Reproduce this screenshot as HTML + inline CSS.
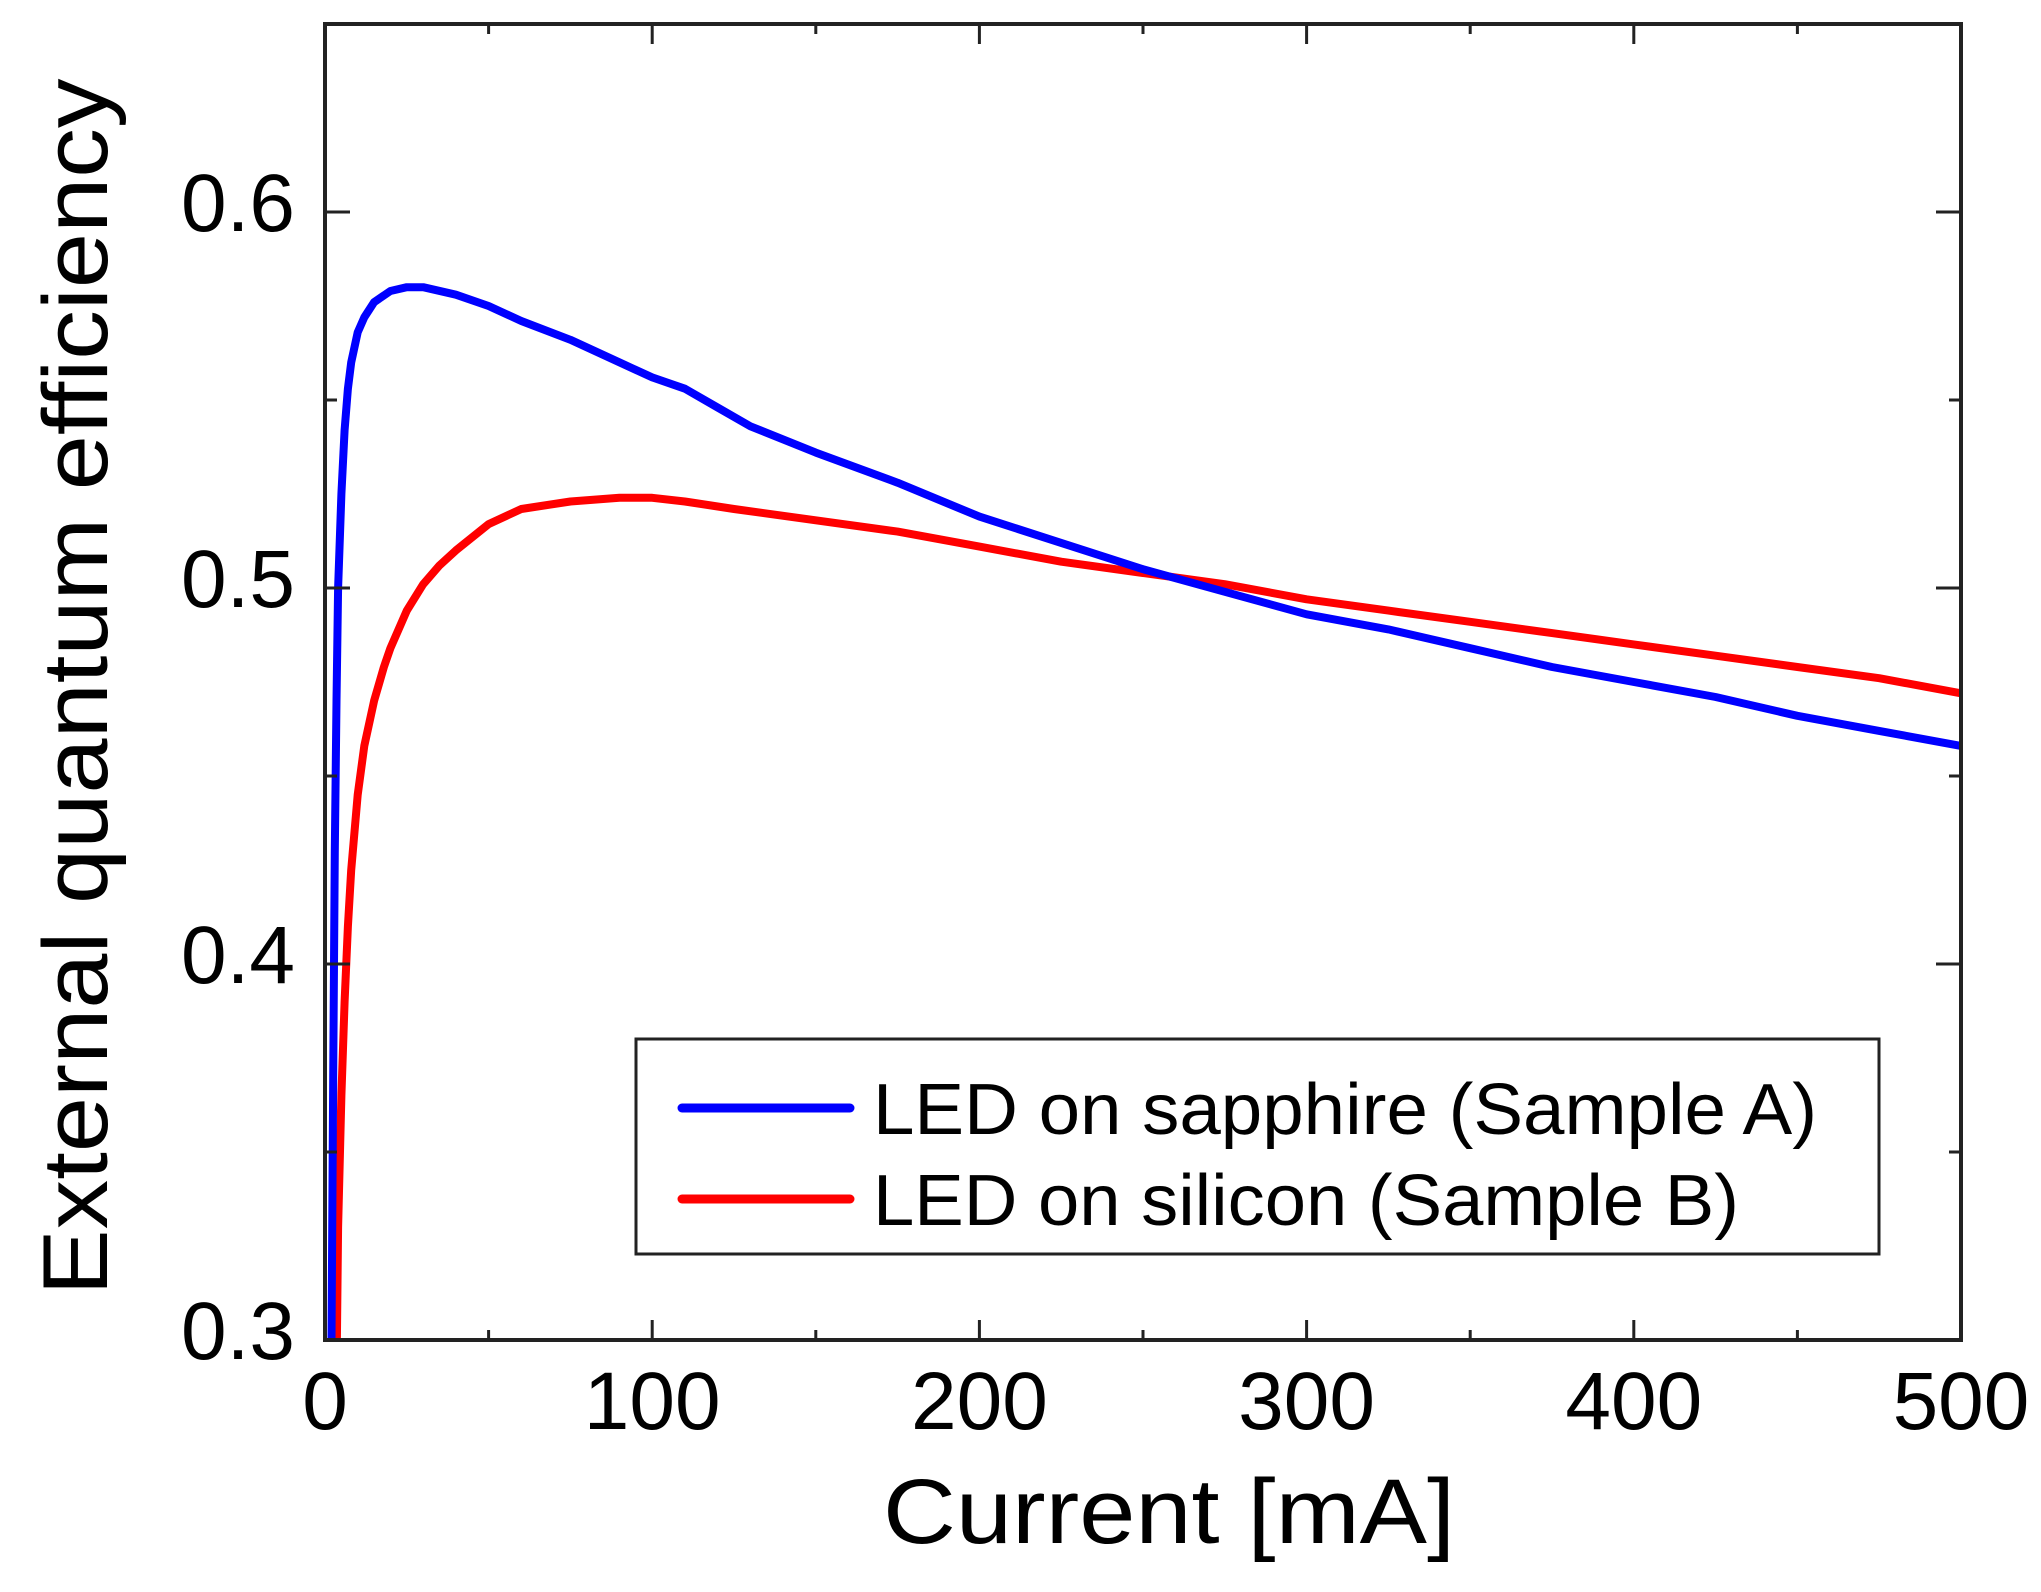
<!DOCTYPE html>
<html><head><meta charset="utf-8"><style>
html,body{margin:0;padding:0;background:#fff;}
svg{display:block;font-family:"Liberation Sans",Arial,sans-serif;}
</style></head><body>
<svg id="chart" width="2041" height="1592" viewBox="0 0 2041 1592" xmlns="http://www.w3.org/2000/svg">
<rect width="2041" height="1592" fill="#fff"/>
<g id="series"></g>
<g id="axes"></g>
</svg>
<script>
const xTicks = [0,100,200,300,400,500];
const xTickLabels = ["0","100","200","300","400","500"];
const yTicks = [0.3,0.4,0.5,0.6];
const yTickLabels = ["0.3","0.4","0.5","0.6"];
const sapphireX = [2,2.5,3,3.5,4,5,6,7,8,10,12,15,20,25,30,40,50,60,75,90,100,110,120,130,150,175,200,225,250,275,300,325,350,375,400,425,450,475,500];
const sapphireY = [0.30,0.37,0.43,0.47,0.50,0.525,0.542,0.553,0.56,0.568,0.572,0.576,0.579,0.580,0.580,0.578,0.575,0.571,0.566,0.560,0.556,0.553,0.548,0.543,0.536,0.528,0.519,0.512,0.505,0.499,0.493,0.489,0.484,0.479,0.475,0.471,0.466,0.462,0.458];
const siliconX = [3.5,4,5,6,7,8,10,12,15,18,20,25,30,35,40,50,60,75,90,100,110,125,150,175,200,225,250,275,300,325,350,375,400,425,450,475,500];
const siliconY = [0.29,0.33,0.365,0.39,0.41,0.425,0.445,0.458,0.47,0.479,0.484,0.494,0.501,0.506,0.510,0.517,0.521,0.523,0.524,0.524,0.523,0.521,0.518,0.515,0.511,0.507,0.504,0.501,0.497,0.494,0.491,0.488,0.485,0.482,0.479,0.476,0.472];

const X0=325, X1=1961, Y0=1340, Y1=24;
const xS = v => X0 + (v/500)*(X1-X0);
const yS = v => Y0 - (v-0.3)/0.1*376;
const NS="http://www.w3.org/2000/svg";
function mk(tag, attrs, parent){const e=document.createElementNS(NS,tag);for(const k in attrs)e.setAttribute(k,attrs[k]);parent.appendChild(e);return e;}
const svg=document.getElementById('chart');
const series=document.getElementById('series');
const axes=document.getElementById('axes');

const defs=mk('defs',{},svg);
const cp=mk('clipPath',{id:'clip'},defs);
mk('rect',{x:X0,y:Y1,width:X1-X0,height:Y0-Y1},cp);
series.setAttribute('clip-path','url(#clip)');

function line(xs,ys,color,name){
  const pts=xs.map((x,i)=>xS(x).toFixed(1)+','+yS(ys[i]).toFixed(1)).join(' ');
  const p=mk('polyline',{points:pts,fill:'none',stroke:color,'stroke-width':8,'stroke-linejoin':'round'},series);
  
  
}
line(siliconX,siliconY,'#ff0000','silicon-line');
line(sapphireX,sapphireY,'#0000ff','sapphire-line');

const frame=mk('rect',{x:X0,y:Y1,width:X1-X0,height:Y0-Y1,fill:'none',stroke:'#222','stroke-width':4},axes);



// x ticks
for(let v=0; v<=500; v+=50){
  const major = v%100===0; const L = major?20:10; const x=xS(v);
  mk('line',{x1:x,y1:Y0,x2:x,y2:Y0-L,stroke:'#222','stroke-width':3},axes);
  mk('line',{x1:x,y1:Y1,x2:x,y2:Y1+L,stroke:'#222','stroke-width':3},axes);
}
xTicks.forEach((v,i)=>{
  const t=mk('text',{x:xS(v),y:1429,'font-size':82,'text-anchor':'middle',fill:'#000'},axes);
  t.textContent=xTickLabels[i];
  
  
});
// y ticks
for(let k=0;k<=7;k++){
  const v=0.3+k*0.05; const major=k%2===0; const L=major?25:12; const y=yS(v);
  if(y<Y1+2) continue;
  mk('line',{x1:X0,y1:y,x2:X0+L,y2:y,stroke:'#222','stroke-width':3},axes);
  mk('line',{x1:X1,y1:y,x2:X1-L,y2:y,stroke:'#222','stroke-width':3},axes);
}
yTicks.forEach((v,i)=>{
  const t=mk('text',{x:295,y:yS(v)+19,'font-size':82,'text-anchor':'end',fill:'#000'},axes);
  t.textContent=yTickLabels[i];
  
  
});
</script>
<svg style="position:absolute;left:0;top:0" width="2041" height="1592">
<g font-family="Liberation Sans, Arial, sans-serif">
<text x="1169" y="1543" font-size="92" text-anchor="middle" textLength="572" lengthAdjust="spacingAndGlyphs">Current [mA]</text>
<text transform="translate(107,687) rotate(-90)" x="0" y="0" font-size="92" text-anchor="middle" textLength="1217" lengthAdjust="spacingAndGlyphs">External quantum efficiency</text>
<g>
<rect x="636" y="1039" width="1243" height="215" fill="#fff" stroke="#222" stroke-width="3"/>
<line x1="682" y1="1108" x2="850" y2="1108" stroke="#0000ff" stroke-width="9" stroke-linecap="round"/>
<text x="873" y="1134" font-size="72" textLength="944" lengthAdjust="spacingAndGlyphs">LED on sapphire (Sample A)</text>
<line x1="682" y1="1199" x2="850" y2="1199" stroke="#ff0000" stroke-width="9" stroke-linecap="round"/>
<text x="873" y="1225" font-size="72" textLength="866" lengthAdjust="spacingAndGlyphs">LED on silicon (Sample B)</text>
</g>
</g>
</svg>
</body></html>
